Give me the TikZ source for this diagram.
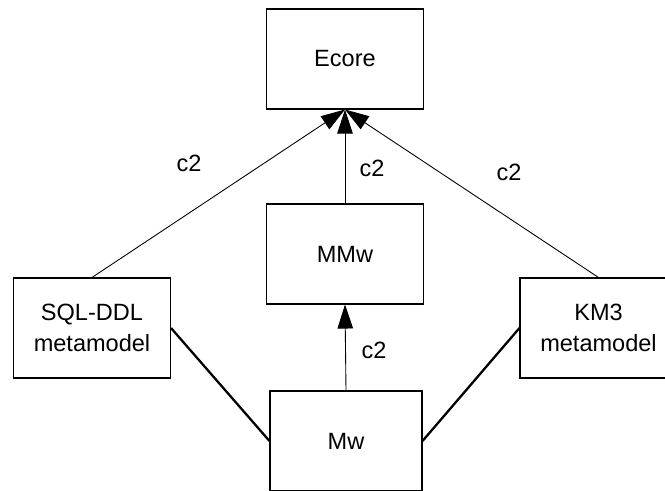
\documentclass[tikz,border=0pt]{standalone}
\usepackage{fontspec}
\setmainfont{Liberation Sans}
\usetikzlibrary{
arrows.meta,
}

\begin{document}
\begin{tikzpicture}[
    model/.style={draw, line width=0.6pt, minimum width=3.14cm, minimum height=2cm,
                  align=center, inner sep=0pt, font=\fontsize{13.4}{17.6}\selectfont},
    conforms/.style={line width=0.5pt, -{Triangle[length=0.48cm, width=0.31cm]}},
    link/.style={line width=1.3pt},
    lbl/.style={font=\fontsize{13.4}{16}\selectfont, inner sep=0pt},
  ]
  \useasboundingbox (0,0) rectangle (13.3,9.8);

  \node[model] (ecore) at (6.9,8.62) {Ecore};
  \node[model] (mmw) at (6.9,4.72) {MMw};
  \node[model, minimum width=3.04cm] (mw) at (6.92,0.98) {Mw};
  \node[model] (sql) at (1.84,3.24) {SQL-DDL\\metamodel};
  \node[model] (km3) at (11.97,3.24) {KM3\\metamodel};

  \draw[conforms] (sql.north) -- (ecore.south);
  \draw[conforms] (mmw.north) -- (ecore.south);
  \draw[conforms] (km3.north) -- (ecore.south);
  \draw[conforms] (mw.north) -- (mmw.south);

  \draw[link] (sql.east) -- (mw.west);
  \draw[link] (km3.west) -- (mw.east);

  \node[lbl] (c2sql) at (3.78,6.54) {c2};
  \node[lbl] (c2mmw) at (7.44,6.44) {c2};
  \node[lbl] (c2km3) at (10.18,6.36) {c2};
  \node[lbl] (c2mw) at (7.48,2.8) {c2};

\end{tikzpicture}
\end{document}
